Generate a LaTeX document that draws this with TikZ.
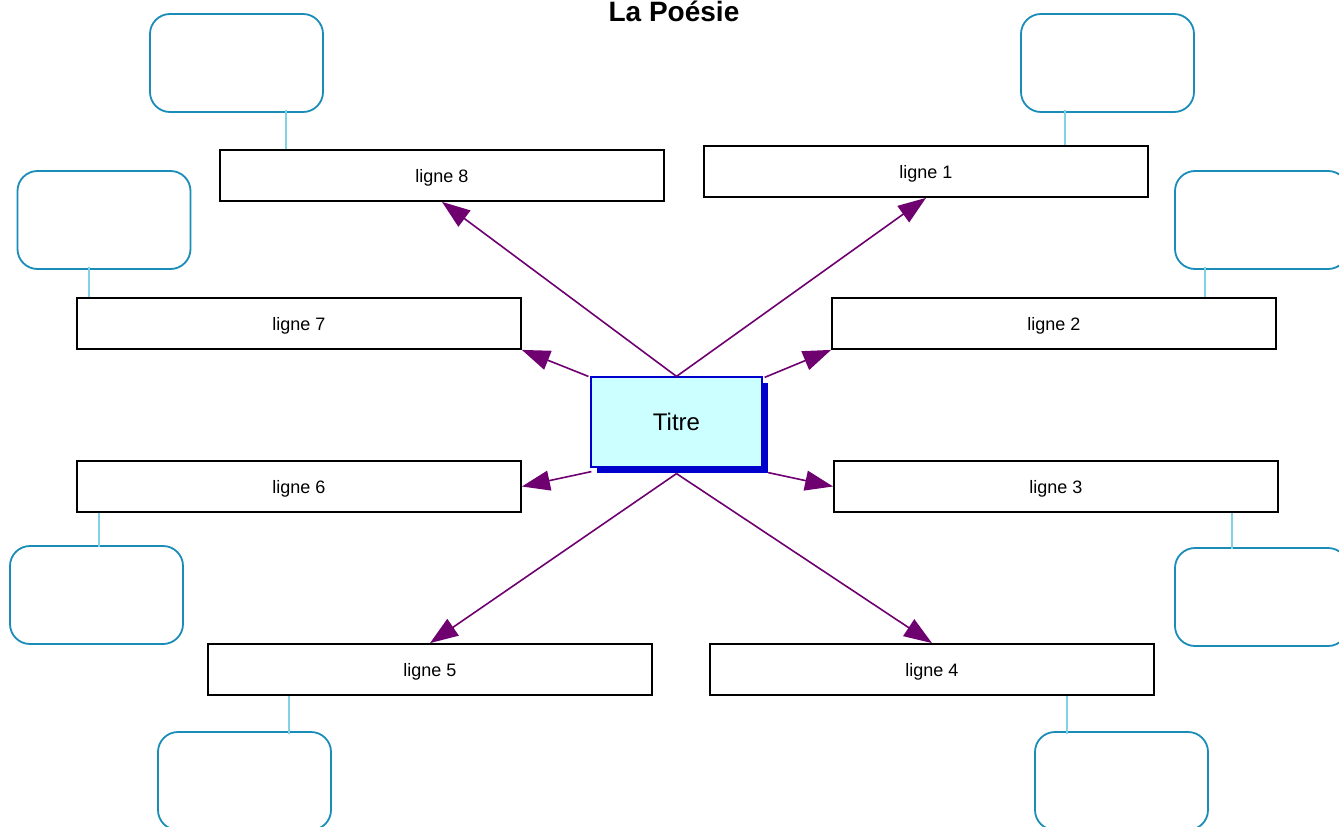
\documentclass[tikz,border=0pt]{standalone}
\usepackage{fontspec}
\setmainfont{Liberation Sans}
\usetikzlibrary{arrows.meta}
\definecolor{purp}{HTML}{6E0070}
\definecolor{cloudblue}{HTML}{1A8CB8}
\definecolor{linkcol}{HTML}{7FD3E3}
\definecolor{titrefill}{HTML}{CCFFFF}
\definecolor{titreblue}{HTML}{0000CC}
\tikzset{
  linebox/.style={draw=black, line width=1.8pt, minimum width=444pt, minimum height=51pt, inner sep=0pt, text height=19.5pt, text depth=6pt, font=\fontsize{18}{21}\selectfont},
  cloudbox/.style={draw=cloudblue, line width=1.8pt, rounded corners=20pt, minimum width=173pt, minimum height=98pt},
  tie/.style={draw=linkcol, line width=1.8pt},
  arr/.style={draw=purp, fill=purp, line width=1.6pt, -{Triangle[length=28pt,width=20pt]}}
}
\begin{document}
\begin{tikzpicture}[x=1pt,y=-1pt]
\useasboundingbox (0,0) rectangle (1339,827);
\clip (0,0) rectangle (1339,827);
\node[anchor=base, font=\bfseries\fontsize{28}{32}\selectfont] (title) at (674,21) {La Poésie};
% clouds
\node[cloudbox] (k8) at (236.5,63) {};
\node[cloudbox] (k1) at (1107.5,63) {};
\node[cloudbox] (k7) at (104,220) {};
\node[cloudbox] (k2) at (1261.5,220) {};
\node[cloudbox] (k6) at (96.5,595) {};
\node[cloudbox] (k3) at (1261.5,597) {};
\node[cloudbox] (k5) at (244.5,781) {};
\node[cloudbox] (k4) at (1121.5,781) {};
% line boxes
\node[linebox] (l8) at (442,175.5) {ligne 8};
\node[linebox] (l1) at (926,171.5) {ligne 1};
\node[linebox] (l7) at (299,323.5) {ligne 7};
\node[linebox] (l2) at (1054,323.5) {ligne 2};
\node[linebox] (l6) at (299,486.5) {ligne 6};
\node[linebox] (l3) at (1056,486.5) {ligne 3};
\node[linebox] (l5) at (430,669.5) {ligne 5};
\node[linebox] (l4) at (932,669.5) {ligne 4};
% ties
\coordinate (t8) at ([xshift=67pt]l8.north west);
\coordinate (t1) at ([xshift=362pt]l1.north west);
\coordinate (t7) at ([xshift=13pt]l7.north west);
\coordinate (t2) at ([xshift=374pt]l2.north west);
\coordinate (t6) at ([xshift=23pt]l6.south west);
\coordinate (t3) at ([xshift=399pt]l3.south west);
\coordinate (t5) at ([xshift=82pt]l5.south west);
\coordinate (t4) at ([xshift=358pt]l4.south west);
\draw[tie] (t8) -- ([yshift=3pt]t8 |- k8.south);
\draw[tie] (t1) -- ([yshift=3pt]t1 |- k1.south);
\draw[tie] (t7) -- ([yshift=3pt]t7 |- k7.south);
\draw[tie] (t2) -- ([yshift=3pt]t2 |- k2.south);
\draw[tie] (t6) -- ([yshift=-2pt]t6 |- k6.north);
\draw[tie] (t3) -- ([yshift=-2pt]t3 |- k3.north);
\draw[tie] (t5) -- ([yshift=-3pt]t5 |- k5.north);
\draw[tie] (t4) -- ([yshift=-3pt]t4 |- k4.north);
% centre
\node[fill=titreblue, minimum width=171pt, minimum height=90pt, inner sep=0pt] (cshadow) at (682.5,428) {};
\node[draw=titreblue, fill=titrefill, line width=1.2pt, minimum width=171pt, minimum height=90pt, inner sep=0pt, font=\fontsize{24}{27}\selectfont] (c) at (676.5,422) {Titre};
% arrows
\draw[arr] ([xshift=-2pt]c.north west) -- (l7.south east);
\draw[arr] ([xshift=2pt,yshift=-1pt]c.north east) -- (l2.south west);
\draw[arr] ([xshift=1pt,yshift=-4pt]c.south west) -- (l6.east);
\draw[arr] ([yshift=-5pt]cshadow.east |- c.south) -- (l3.west);
\draw[arr] (c.north) -- (l8.south);
\draw[arr] (c.north) -- (l1.south);
\draw[arr] ([yshift=-6pt]c.south) -- (l5.north);
\draw[arr] ([yshift=-6pt]c.south) -- (l4.north);
\end{tikzpicture}
\end{document}
